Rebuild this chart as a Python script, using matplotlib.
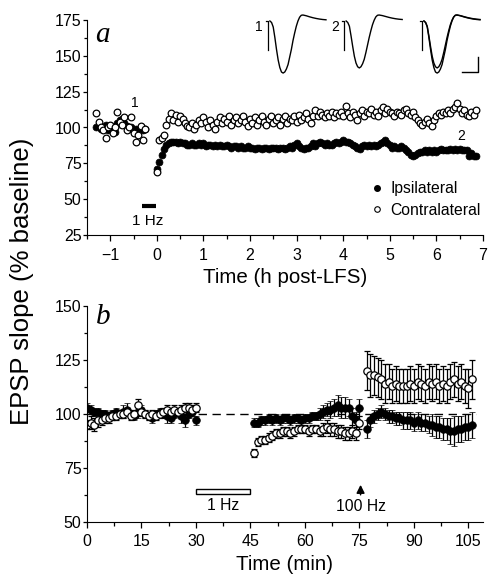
import numpy as np
import matplotlib
matplotlib.use("Agg")
import matplotlib.pyplot as plt
from matplotlib.patches import Rectangle
from matplotlib.lines import Line2D

plt.rcParams['font.family'] = ['Liberation Sans', 'DejaVu Sans']

# ---------------- Panel a data (h post-LFS, % baseline) ----------------
a_base_t = np.round(np.arange(-1.30, -0.24, 0.05), 2)
a_ipsi_base = [100, 101, 99, 100, 102, 98, 101, 100, 97, 103, 105,
               106, 103, 101, 99, 100, 98, 99, 97, 100, 98, 99]
a_contra_base = [110, 104, 100, 98, 93, 100, 102, 96, 100, 111, 104,
                 102, 107, 98, 100, 107, 96, 90, 95, 101, 91, 99]

a_post_t = np.round(np.arange(0.0, 6.86, 0.05), 2)
a_ipsi_post = [71, 76, 81, 85, 88, 89, 90, 90, 90, 89, 90, 89, 89, 88, 88, 89, 88, 88, 89, 88,
               89, 87, 88, 88, 87, 88, 87, 88, 87, 87, 88, 87, 86, 87, 87, 86, 87, 86, 86, 87,
               86, 86, 85, 86, 86, 85, 86, 86, 85, 86, 86, 86, 85, 86, 86, 85, 86, 87, 86, 88,
               89, 87, 86, 85, 86, 86, 87, 89, 87, 89, 90, 89, 88, 89, 88, 88, 89, 90, 89, 90,
               91, 90, 90, 89, 88, 87, 86, 85, 87, 88, 87, 88, 87, 88, 87, 88, 89, 90, 91, 89,
               88, 86, 87, 86, 86, 87, 86, 84, 83, 81, 80, 81, 82, 83, 83, 84, 83, 84, 83, 84,
               83, 84, 85, 84, 84, 84, 85, 84, 85, 84, 85, 84, 84, 84, 80, 82, 80, 80]
a_contra_post = [69, 91, 93, 95, 102, 106, 110, 105, 109, 104, 108, 106, 103, 101, 100, 103, 99, 102, 105, 103,
                 107, 104, 100, 105, 102, 99, 104, 107, 103, 106, 104, 108, 102, 105, 107, 103, 105, 108, 104, 101,
                 106, 103, 107, 102, 105, 108, 104, 102, 106, 108, 103, 105, 107, 102, 106, 108, 103, 106, 105, 108,
                 104, 109, 105, 107, 110, 106, 103, 108, 112, 108, 111, 109, 107, 110, 108, 111, 107, 110, 109, 111,
                 108, 115, 110, 107, 111, 109, 105, 110, 112, 108, 111, 110, 113, 109, 111, 108, 112, 114, 110, 113,
                 111, 110, 108, 111, 110, 109, 112, 113, 110, 109, 111, 107, 105, 103, 102, 104, 106, 103, 101, 105,
                 108, 110, 109, 111, 110, 112, 110, 113, 114, 117, 113, 110, 112, 109, 108, 111, 109, 112]

# inset traces (ms, mV)
trace_t = [0.0, 0.5, 1.0, 1.5, 2.0, 2.5, 3.0, 3.5, 4.0, 4.5, 5.0, 5.5, 6.0, 6.5, 7.0, 7.5,
           8.0, 8.5, 9.0, 9.5, 10.0, 11.0, 12.0, 13.0, 14.0, 15.0, 16.0, 17.0]
trace1_v = [0.0, -0.1, -0.4, -1.1, -1.9, -2.6, -3.1, -3.4, -3.47, -3.4, -3.2, -2.9, -2.4, -1.9, -1.3, -0.8,
            -0.35, 0.0, 0.25, 0.38, 0.4, 0.35, 0.28, 0.22, 0.17, 0.13, 0.1, 0.08]
trace2_v = [0.0, -0.1, -0.35, -1.0, -1.7, -2.35, -2.8, -3.05, -3.13, -3.05, -2.85, -2.55, -2.1, -1.6, -1.1, -0.65,
            -0.25, 0.05, 0.27, 0.38, 0.4, 0.36, 0.3, 0.24, 0.19, 0.15, 0.12, 0.1]
trace_offsets = [2.4, 25.5, 49.1]
trace_labels = ['1', '2', '']

# ---------------- Panel b data (min, % baseline) ----------------
b_t1 = np.arange(0, 31)
b_t2 = np.arange(46, 76)
b_t3 = np.arange(77, 107)
b_ipsi = [103, 102, 101, 101, 100, 100, 99, 100, 101, 100, 101, 102, 100, 99, 101, 102, 100, 99, 98, 100,
          101, 100, 99, 98, 100, 101, 99, 97, 100, 101, 97,
          96, 96, 97, 97, 98, 97, 98, 97, 98, 98, 97, 98, 98, 97, 98, 98, 99, 99, 100, 101,
          102, 102, 103, 104, 103, 103, 103, 99, 97, 103,
          93, 97, 99, 100, 101, 100, 99, 99, 98, 98, 97, 97, 97, 96, 97, 96, 96, 95, 95, 94,
          94, 93, 93, 92, 92, 93, 93, 94, 94, 95]
b_ipsi_err = [2, 2, 2, 2, 2, 2, 2, 2, 2, 2, 3, 3, 2, 2, 3, 2, 2, 2, 2, 2,
              2, 2, 3, 2, 2, 2, 3, 3, 2, 2, 2,
              2, 2, 2, 2, 2, 2, 2, 2, 2, 2, 2, 2, 2, 2, 2, 2, 2, 2, 3, 3,
              3, 4, 4, 5, 5, 5, 4, 4, 4, 4,
              4, 3, 3, 3, 3, 3, 3, 3, 3, 3, 4, 4, 4, 4, 4, 4, 4, 4, 5, 5,
              5, 5, 5, 6, 7, 6, 6, 6, 6, 6]
b_contra = [95, 96, 95, 97, 97, 98, 98, 99, 99, 100, 100, 101, 99, 100, 104, 101, 100, 99, 100, 99,
            100, 101, 102, 101, 102, 101, 102, 103, 103, 102, 103,
            82, 87, 88, 88, 89, 90, 91, 91, 92, 92, 91, 92, 93, 93, 93, 92, 93, 93, 92, 93,
            94, 93, 93, 92, 92, 91, 91, 92, 91, 96,
            120, 118, 118, 117, 116, 114, 115, 113, 114, 113, 113, 113, 114, 113, 115, 114, 113, 115, 114, 115,
            113, 114, 113, 115, 116, 114, 115, 113, 112, 116]
b_contra_err = [2, 3, 3, 3, 2, 2, 2, 2, 2, 2, 2, 2, 2, 2, 3, 2, 2, 2, 2, 2,
                2, 2, 2, 2, 2, 2, 2, 2, 2, 2, 2,
                2, 2, 2, 2, 2, 2, 2, 2, 2, 2, 2, 2, 2, 2, 2, 2, 2, 2, 2, 3,
                3, 3, 3, 3, 3, 3, 3, 3, 3, 3,
                9, 10, 9, 9, 9, 9, 8, 8, 8, 8, 8, 8, 8, 8, 8, 8, 8, 8, 8, 8,
                8, 8, 8, 8, 8, 8, 8, 8, 9, 9]

W, H = 490, 579
fig = plt.figure(figsize=(W / 100, H / 100), dpi=100)

def box(x0, y0, x1, y1):
    return [x0 / W, 1 - y1 / H, (x1 - x0) / W, (y1 - y0) / H]

TICK_FS = 11.5
LABEL_FS = 14.8

# ---------------- Panel a ----------------
axa = fig.add_axes(box(87, 20, 483, 235))
axa.plot(a_base_t, a_ipsi_base, 'o', color='black', ms=5, mew=0.5, ls='none')
axa.plot(a_post_t, a_ipsi_post, 'o', color='black', ms=5, mew=0.5, ls='none')
axa.plot(a_base_t, a_contra_base, 'o', mfc='white', mec='black', ms=4.8, mew=0.9, ls='none')
axa.plot(a_post_t, a_contra_post, 'o', mfc='white', mec='black', ms=4.8, mew=0.9, ls='none')

axa.set_xlim(-1.5, 7.0)
axa.set_ylim(25, 175)
axa.set_xticks(range(-1, 8))
axa.set_xticks(np.arange(-1.5, 7.01, 0.5), minor=True)
axa.set_yticks(range(25, 176, 25))
axa.set_yticks(np.arange(25, 176, 12.5), minor=True)
for s in ['top', 'right']:
    axa.spines[s].set_visible(False)
axa.tick_params(which='both', direction='out', width=0.9, labelsize=TICK_FS)
axa.tick_params(axis='y', which='major', length=3, pad=1)
axa.tick_params(axis='y', which='minor', length=2)
axa.tick_params(axis='x', which='major', length=4, pad=5)
axa.tick_params(axis='x', which='minor', length=3)
axa.set_xlabel('Time (h post-LFS)', fontsize=LABEL_FS, labelpad=4)
axa.text(-1.33, 160, 'a', fontsize=21, family='Liberation Serif', style='italic', va='baseline')
axa.text(-0.48, 117, '1', fontsize=10, ha='center', va='center')
axa.text(6.54, 94, '2', fontsize=10, ha='center', va='center')
axa.plot([-0.33, -0.02], [45, 45], color='black', lw=3, solid_capstyle='butt')
axa.text(-0.2, 35, '1 Hz', fontsize=11, ha='center', va='center')

handles = [Line2D([], [], marker='o', ls='none', color='black', ms=4),
           Line2D([], [], marker='o', ls='none', mfc='white', mec='black', mew=0.8, ms=4)]
axa.legend(handles, ['Ipsilateral', 'Contralateral'], loc='upper left',
           bbox_to_anchor=(0.713, 0.25), frameon=False, fontsize=11.3,
           handlelength=1.0, handletextpad=0.35, labelspacing=0.42,
           borderpad=0, borderaxespad=0)

# inset traces
axi = fig.add_axes(box(262, 10, 482, 80))
axi.set_xlim(0, 66.7)
axi.set_ylim(-3.933, 0.733)
axi.axis('off')
for off, lab, k in zip(trace_offsets, trace_labels, range(3)):
    axi.plot([off - 1.1, off - 0.5, off - 0.5], [0.0, 0.0, -1.95], color='black', lw=0.9)
    tt = [off + v for v in trace_t]
    if k in (0, 2):
        axi.plot(tt, trace1_v, color='black', lw=1.0)
    if k in (1, 2):
        axi.plot(tt, trace2_v, color='black', lw=1.0)
    if lab:
        axi.text(off - 3.4, -0.4, lab, fontsize=10, ha='center', va='center')
axi.plot([60.6, 65.5, 65.5], [-3.4, -3.4, -2.4], color='black', lw=1.0)

# ---------------- Panel b ----------------
axb = fig.add_axes(box(87, 306, 483, 522))
segs = [(b_t1, slice(0, 31)), (b_t2, slice(31, 61)), (b_t3, slice(61, 91))]
b_ipsi = np.array(b_ipsi); b_ipsi_err = np.array(b_ipsi_err)
b_contra = np.array(b_contra); b_contra_err = np.array(b_contra_err)
for tt, sl in segs:
    axb.errorbar(tt, b_ipsi[sl], yerr=b_ipsi_err[sl], fmt='o', color='black', ms=5.5,
                 elinewidth=0.9, capsize=2.5, capthick=0.9, mew=0.5)
for tt, sl in segs:
    axb.errorbar(tt, b_contra[sl], yerr=b_contra_err[sl], fmt='o', mfc='white', mec='black',
                 ecolor='black', ms=5.3, elinewidth=0.9, capsize=2.5, capthick=0.9, mew=0.9)
axb.plot([0, 107], [100, 100], color='black', lw=1, ls=(0, (6, 4)), zorder=0)
axb.set_xlim(0, 109)
axb.set_ylim(50, 150)
axb.set_xticks(range(0, 106, 15))
axb.set_xticks(np.arange(0, 109, 7.5), minor=True)
axb.set_yticks(range(50, 151, 25))
axb.set_yticks(np.arange(50, 151, 12.5), minor=True)
for s in ['top', 'right']:
    axb.spines[s].set_visible(False)
axb.tick_params(which='both', direction='out', width=0.9, labelsize=TICK_FS)
axb.tick_params(axis='y', which='major', length=3, pad=1)
axb.tick_params(axis='y', which='minor', length=2)
axb.tick_params(axis='x', which='major', length=4, pad=5)
axb.tick_params(axis='x', which='minor', length=3)
axb.set_xlabel('Time (min)', fontsize=LABEL_FS, labelpad=4)
axb.text(2.5, 141.5, 'b', fontsize=21, family='Liberation Serif', style='italic', va='baseline')
axb.add_patch(Rectangle((30, 62.8), 15, 2.3, facecolor='white', edgecolor='black', lw=1))
axb.text(37.5, 57.6, '1 Hz', fontsize=11.3, ha='center', va='center')
axb.annotate('', xy=(75.3, 68.5), xytext=(75.3, 61.3),
             arrowprops=dict(arrowstyle='-|>', color='black', lw=1.1, mutation_scale=12))
axb.text(75.3, 57.4, '100 Hz', fontsize=11.3, ha='center', va='center')

fig.text(22 / W, 1 - 281 / H, 'EPSP slope (% baseline)', rotation=90, fontsize=18.5,
         ha='center', va='center')

fig.savefig('out.png', dpi=100)
